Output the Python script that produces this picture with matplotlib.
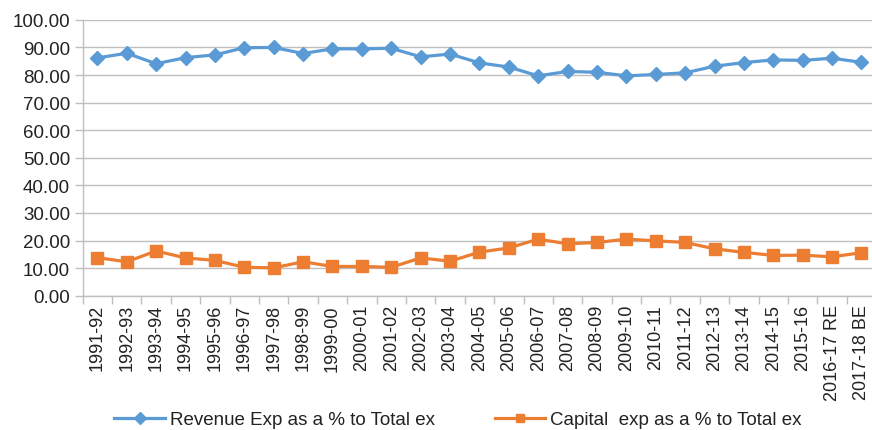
import matplotlib
matplotlib.use("Agg")
import matplotlib.pyplot as plt
from matplotlib.ticker import FixedLocator, FormatStrFormatter
import numpy as np

years = ["1991-92", "1992-93", "1993-94", "1994-95", "1995-96", "1996-97",
         "1997-98", "1998-99", "1999-00", "2000-01", "2001-02", "2002-03",
         "2003-04", "2004-05", "2005-06", "2006-07", "2007-08", "2008-09",
         "2009-10", "2010-11", "2011-12", "2012-13", "2013-14", "2014-15",
         "2015-16", "2016-17 RE", "2017-18 BE"]

revenue_pct = [86.2, 87.9, 84.1, 86.3, 87.3, 89.9, 90.0, 87.8, 89.5, 89.5,
               89.7, 86.6, 87.6, 84.4, 82.9, 79.7, 81.3, 81.0, 79.7, 80.2,
               80.8, 83.2, 84.5, 85.5, 85.3, 86.1, 84.6]

capital_pct = [13.8, 12.3, 16.2, 13.7, 12.8, 10.3, 10.1, 12.3, 10.6, 10.6,
               10.3, 13.7, 12.5, 15.8, 17.3, 20.5, 18.8, 19.3, 20.5, 19.9,
               19.3, 17.0, 15.7, 14.6, 14.7, 14.1, 15.6]

series_labels = ["Revenue Exp as a % to Total ex",
                 "Capital  exp as a % to Total ex"]

plt.rcParams["font.family"] = ["Liberation Sans", "DejaVu Sans"]

fig = plt.figure(figsize=(8.72, 4.31), dpi=100)
ax = fig.add_axes([0.0948, 0.3116, 0.910, 0.640])

x = np.arange(len(years))
blue = "#5B9BD5"
orange = "#ED7D31"

ax.plot(x, revenue_pct, color=blue, lw=2.3, marker="D", ms=7.5,
        label=series_labels[0], zorder=3)
ax.plot(x, capital_pct, color=orange, lw=2.3, marker="s", ms=8.5,
        label=series_labels[1], zorder=3)

ax.set_xlim(-0.5, len(years) - 0.5)
ax.set_ylim(0, 100)
ax.set_yticks(np.arange(0, 101, 10))
ax.yaxis.set_major_formatter(FormatStrFormatter("%.2f"))
ax.grid(axis="y", color="#BFBFBF", lw=1.0)
ax.set_axisbelow(True)

ax.set_xticks(x)
ax.set_xticklabels(years, rotation=90, fontsize=13)
ax.xaxis.set_minor_locator(FixedLocator(np.arange(-0.5, len(years), 1.0)))
ax.tick_params(axis="x", which="major", length=0, pad=6)
ax.tick_params(axis="x", which="minor", length=6, color="#BFBFBF", width=1.0)
ax.tick_params(axis="y", length=6, color="#BFBFBF", width=1.0, labelsize=13.5,
               pad=3, labelcolor="#222222")
ax.tick_params(axis="x", labelcolor="#222222")

for side in ("top", "right"):
    ax.spines[side].set_visible(False)
for side in ("left", "bottom"):
    ax.spines[side].set_color("#BFBFBF")
    ax.spines[side].set_linewidth(1.0)

fig.legend(loc="center", bbox_to_anchor=(0.525, 0.024), ncol=2,
           frameon=False, fontsize=13.5, handlelength=2.7, handletextpad=0.25,
           columnspacing=3.2, markerscale=0.75, labelcolor="#222222",
           borderpad=0.2)

fig.savefig("out.png", dpi=100)
